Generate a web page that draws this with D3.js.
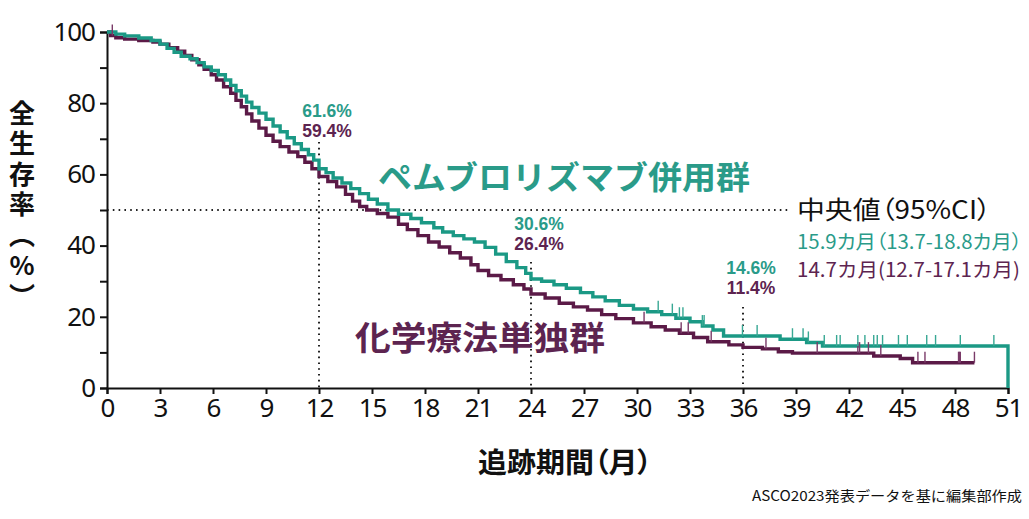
<!DOCTYPE html>
<html><head><meta charset="utf-8">
<script src="https://cdn.jsdelivr.net/npm/d3@7"></script>
<style>
html,body{margin:0;padding:0;background:#fff;}
svg{display:block;font-family:"Noto Sans CJK JP","Noto Sans",sans-serif;}
</style></head>
<body>
<svg id="chart" width="1029" height="519"></svg>
<script>
// ---- data ----
const xTicks = [0,3,6,9,12,15,18,21,24,27,30,33,36,39,42,45,48,51];
const yTicks = [0,20,40,60,80,100];
const yMinorTicks = [10,30,50,70,90];

const pembroTimes = [0,0.5,1.0,1.8,2.5,3.0,3.4,3.8,4.2,4.7,5.1,5.5,5.9,6.3,6.7,7.0,7.3,7.6,7.9,8.2,8.6,9.0,9.4,9.8,10.2,10.6,11.0,11.4,11.7,12.0,12.4,12.8,13.3,13.8,14.3,14.8,15.3,15.9,16.5,17.2,17.8,18.5,19.0,19.6,20.2,20.8,21.4,22.0,22.6,23.2,23.7,24.0,24.6,25.3,26.0,26.8,27.5,28.2,29.0,29.8,30.6,31.4,32.2,33.0,33.7,34.3,34.9,38.1,39.6,40.5,51.0];
const pembroSurv  = [100,99.4,98.9,98.3,97.6,96.6,95.4,94.3,93.2,92.5,91.4,90.2,89.2,88.0,86.5,85.0,83.5,82.0,80.3,78.8,77.2,75.5,73.6,72.0,70.3,68.6,67.0,65.5,64.0,61.6,60.5,59.0,57.6,56.0,54.6,53.0,51.7,50.0,48.8,47.6,46.4,45.0,43.8,42.8,41.9,41.0,39.5,37.6,35.5,33.8,32.2,30.6,30.0,29.0,28.0,26.8,25.6,24.5,23.2,22.2,21.4,20.6,19.6,18.6,17.4,16.3,14.6,13.7,12.8,11.8,0];
const pembroCensor = [31.2,32.0,32.4,32.6,33.7,33.8,35.97,36.8,38.8,39.4,39.7,40.6,41.3,41.5,42.5,42.9,43.4,43.6,43.9,44.8,45.3,46.4,46.9,48.3,50.2];

const chemoTimes = [0,0.2,0.5,1.0,1.8,2.6,3.0,3.5,4.0,4.4,4.8,5.2,5.5,5.9,6.2,6.6,7.0,7.3,7.6,7.9,8.2,8.6,9.0,9.4,9.8,10.3,10.8,11.2,11.6,12.0,12.5,13.0,13.5,13.9,14.3,14.7,15.3,15.9,16.5,17.0,17.6,18.2,18.8,19.4,20.0,20.6,21.0,21.6,22.3,23.0,23.6,24.0,24.8,25.6,26.4,27.2,28.0,28.8,29.8,30.8,31.6,32.4,33.2,34.0,35.2,36.0,37.1,38.0,38.8,43.4,44.9,45.6,49.1];
const chemoSurv  = [100,99.0,98.4,98.0,97.6,97.2,96.6,95.6,94.6,93.4,92.2,90.8,89.5,88.0,86.5,84.6,82.8,80.8,79.0,77.0,75.0,73.0,71.0,69.3,67.8,66.3,65.0,63.4,61.6,59.4,58.0,56.5,54.4,52.5,51.0,50.0,49.0,48.0,46.0,44.5,42.8,41.0,39.6,38.0,36.5,34.6,33.0,31.6,30.4,29.0,27.8,26.4,25.3,23.8,22.8,21.9,20.6,19.5,18.3,17.2,16.3,15.4,14.2,13.0,12.1,11.4,11.0,10.2,9.8,9.0,8.3,7.1,7.1];
const chemoCensor = [0.3,30.4,32.5,32.9,34.2,37.3,40.2,42.5,42.6,43.1,43.8,45.9,46.3,48.2,48.25,48.3,49.1];

const landmarkTimes = [12,24,36];
const pembroLandmark = ["61.6%","30.6%","14.6%"];
const chemoLandmark  = ["59.4%","26.4%","11.4%"];

const pembroName = "ペムブロリズマブ併用群";
const chemoName = "化学療法単独群";
const medianTitle = "中央値（95%CI）";
const pembroMedian = "15.9カ月（13.7-18.8カ月）";
const chemoMedian = "14.7カ月(12.7-17.1カ月)";
const yTitle = "全生存率（%）";
const xTitle = "追跡期間（月）";
const footnote = "ASCO2023発表データを基に編集部作成";

// ---- drawing ----
const TEAL = "#1b9985", PURPLE = "#5b1a47";
const TEAL_TXT = "#2a9b89", PURPLE_TXT = "#5d2450";
const svg = d3.select("#chart");
const x = d3.scaleLinear().domain([0,51]).range([107,1008]);
const y = d3.scaleLinear().domain([0,100]).range([388,32]);

const toPts = (ts, ss) => ts.map((t,i)=>[t, ss[i]]);
const pembro = toPts(pembroTimes, pembroSurv);
const chemo = toPts(chemoTimes, chemoSurv);
const stepAt = (pts, t) => { let v = pts[0][1]; for (const p of pts) { if (p[0] <= t) v = p[1]; else break; } return v; };

// reference dotted lines
svg.append("line").attr("x1", x(0)).attr("x2", 790).attr("y1", y(50)).attr("y2", y(50))
  .attr("stroke","#222").attr("stroke-width",2).attr("stroke-dasharray","1.6,4.2");
const vTop = [142, 262, 307];
landmarkTimes.forEach((t,i)=>{
  svg.append("line").attr("x1", x(t)).attr("x2", x(t)).attr("y1", vTop[i]).attr("y2", y(0))
    .attr("stroke","#222").attr("stroke-width",2).attr("stroke-dasharray","1.6,4.2");
});

// axes
const yAxis = d3.axisLeft(y).tickValues(yTicks).tickSize(7).tickPadding(5);
const gy = svg.append("g").attr("transform", `translate(${x(0)},0)`).call(yAxis);
gy.select(".domain").attr("stroke","#111").attr("stroke-width",2);
gy.selectAll(".tick line").attr("stroke","#111").attr("stroke-width",2);
gy.selectAll(".tick text").attr("font-size",26).attr("fill","#111")
  .attr("font-family","'Noto Sans',sans-serif").attr("letter-spacing",-1);
svg.append("g").attr("transform", `translate(${x(0)},0)`)
  .call(d3.axisLeft(y).tickValues(yMinorTicks).tickSize(7).tickFormat(""))
  .call(g=>g.select(".domain").remove())
  .selectAll(".tick line").attr("stroke","#111").attr("stroke-width",2);

const xAxis = d3.axisBottom(x).tickValues(xTicks).tickSize(6).tickPadding(5);
const gx = svg.append("g").attr("transform", `translate(0,${y(0)})`).call(xAxis);
gx.select(".domain").attr("stroke","#111").attr("stroke-width",2);
gx.selectAll(".tick line").attr("stroke","#111").attr("stroke-width",2);
gx.selectAll(".tick text").attr("font-size",26).attr("fill","#111")
  .attr("font-family","'Noto Sans',sans-serif").attr("letter-spacing",-1);

// curves
const line = d3.line().x(d=>x(d[0])).y(d=>y(d[1])).curve(d3.curveStepAfter);
svg.append("path").datum(chemo).attr("d", line).attr("fill","none")
  .attr("stroke", PURPLE).attr("stroke-width",3.4).attr("stroke-linejoin","miter");
svg.append("path").datum(pembro).attr("d", line).attr("fill","none")
  .attr("stroke", TEAL).attr("stroke-width",3.4).attr("stroke-linejoin","miter");

// censor marks
svg.append("g").selectAll("line").data(chemoCensor).join("line")
  .attr("x1", d=>x(d)).attr("x2", d=>x(d))
  .attr("y1", d=>y(stepAt(chemo,d))).attr("y2", d=>y(stepAt(chemo,d)) - 11)
  .attr("stroke", "#7a3a68").attr("stroke-width",1.4);
svg.append("g").selectAll("line").data(pembroCensor).join("line")
  .attr("x1", d=>x(d)).attr("x2", d=>x(d))
  .attr("y1", d=>y(stepAt(pembro,d))).attr("y2", d=>y(stepAt(pembro,d)) - 11)
  .attr("stroke", "#38a894").attr("stroke-width",1.4);

// landmark labels
const lmTop = [111, 224, 268];
landmarkTimes.forEach((t,i)=>{
  svg.append("text").attr("x", x(t)+8).attr("y", lmTop[i]).attr("dy","0.35em")
    .attr("text-anchor","middle").attr("font-family","'Liberation Sans',Arial,sans-serif")
    .attr("font-weight","bold").attr("font-size",17.5).attr("fill",TEAL_TXT).text(pembroLandmark[i]);
  svg.append("text").attr("x", x(t)+8).attr("y", lmTop[i]+20).attr("dy","0.35em")
    .attr("text-anchor","middle").attr("font-family","'Liberation Sans',Arial,sans-serif")
    .attr("font-weight","bold").attr("font-size",17.5).attr("fill",PURPLE_TXT).text(chemoLandmark[i]);
});

// group names
svg.append("text").attr("x",378).attr("y",178).attr("dy","0.35em")
  .attr("font-size",32).attr("font-weight","bold").attr("fill",TEAL_TXT)
  .attr("textLength",372).attr("lengthAdjust","spacingAndGlyphs").text(pembroName);
svg.append("text").attr("x",355).attr("y",338).attr("dy","0.35em")
  .attr("font-size",33).attr("font-weight","bold").attr("fill",PURPLE_TXT)
  .attr("textLength",250).attr("lengthAdjust","spacingAndGlyphs").text(chemoName);

// median block
svg.append("text").attr("x",797).attr("y",210).attr("dy","0.35em")
  .attr("font-size",25).attr("fill","#111").style("font-feature-settings","'palt'")
  .attr("textLength",194).attr("lengthAdjust","spacingAndGlyphs").text(medianTitle);
svg.append("text").attr("x",797).attr("y",242).attr("dy","0.35em")
  .attr("font-size",19.5).attr("fill",TEAL_TXT).style("font-feature-settings","'palt'")
  .attr("textLength",225).attr("lengthAdjust","spacingAndGlyphs").text(pembroMedian);
svg.append("text").attr("x",797).attr("y",270).attr("dy","0.35em")
  .attr("font-size",19.5).attr("fill",PURPLE_TXT)
  .attr("textLength",223).attr("lengthAdjust","spacingAndGlyphs").text(chemoMedian);

// y title (vertical)
svg.append("text").attr("x",22).attr("y",100)
  .style("writing-mode","vertical-rl").style("text-orientation","upright")
  .attr("font-size",26).attr("font-weight","bold").attr("fill","#111")
  .attr("letter-spacing",4.5).text(yTitle);

// x title
svg.append("text").attr("x",565).attr("y",463).attr("dy","0.35em").attr("text-anchor","middle")
  .style("font-feature-settings","'palt'")
  .attr("font-size",28).attr("font-weight","bold").attr("fill","#111")
  .attr("textLength",174).attr("lengthAdjust","spacingAndGlyphs").text(xTitle);

// footnote
svg.append("text").attr("x",1022).attr("y",496).attr("dy","0.35em").attr("text-anchor","end")
  .attr("font-size",14).attr("fill","#111")
  .attr("textLength",270).attr("lengthAdjust","spacingAndGlyphs").text(footnote);
</script>
</body></html>
